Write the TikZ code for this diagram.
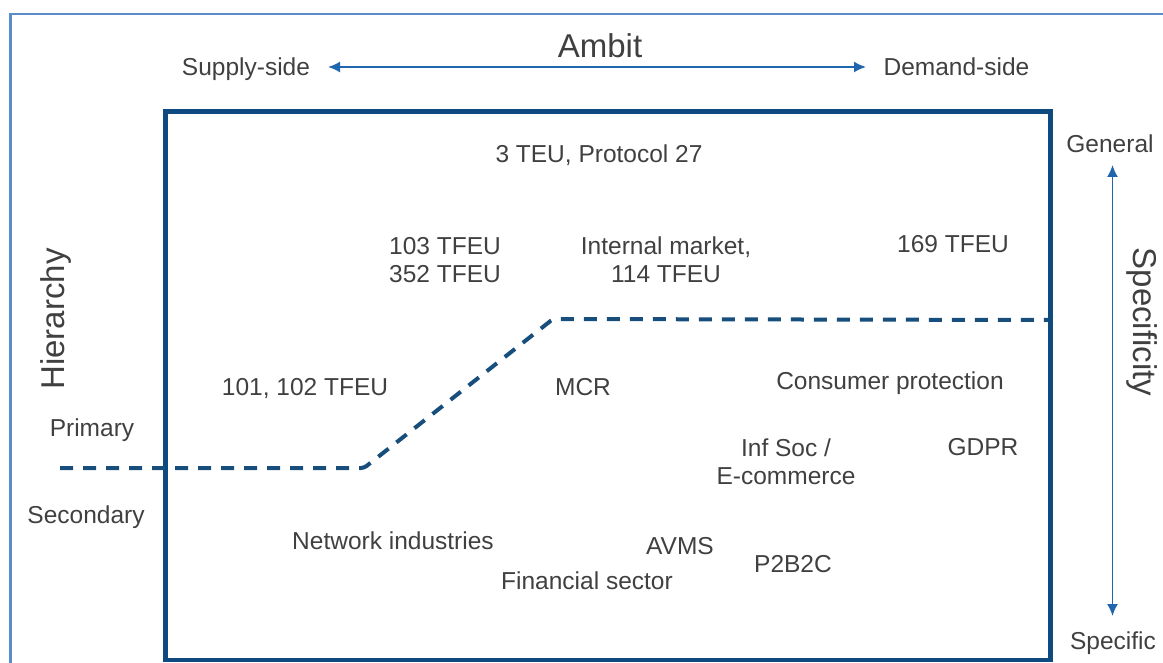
\documentclass[tikz,border=0pt]{standalone}
\usepackage{fontspec}
\setmainfont{Liberation Sans}
\usetikzlibrary{arrows.meta}
\definecolor{txtgray}{HTML}{404040}
\definecolor{outerblue}{HTML}{5B8BC9}
\definecolor{boxblue}{HTML}{0E4A80}
\definecolor{dashblue}{HTML}{174E7C}
\definecolor{arrblue}{HTML}{1F66AE}
\tikzset{
  lbl/.style={inner sep=0pt, anchor=base, text=txtgray, font=\fontsize{24.5}{28}\selectfont},
  lbl2/.style={inner sep=0pt, anchor=center, align=center, text=txtgray, font=\fontsize{24.5}{28}\selectfont},
  biglbl/.style={inner sep=0pt, anchor=base, text=txtgray, font=\fontsize{33}{38}\selectfont},
  axisarrow/.style={draw=arrblue, line width=1.7pt, {Latex[length=12pt,width=11pt]}-{Latex[length=12pt,width=11pt]}},
  divider/.style={draw=dashblue, line width=4pt, dash pattern=on 13pt off 10pt, rounded corners=3pt},
}
\begin{document}
\begin{tikzpicture}[x=1pt,y=-1pt]
\useasboundingbox (0,0) rectangle (1163,663);
% outer frame
\draw[outerblue, line width=2.6pt] (10.5,663) -- (10.5,14) -- (1163,14);
% inner box
\draw[boxblue, line width=4.5pt] (165.5,111.5) rectangle (1050.5,660);

% axis labels
\node[biglbl] (ambit) at (600,58) {Ambit};
\node[lbl] (supply) at (246,76) {Supply-side};
\node[lbl] (demand) at (956.5,76) {Demand-side};
\coordinate (ambL) at (328,67);
\coordinate (ambR) at (866,67);
\draw[axisarrow] (ambL) -- (ambR);

\node[lbl] (general) at (1110,153) {General};
\node[lbl] (specific) at (1113,649) {Specific};
\coordinate (specT) at (1112.5,165);
\coordinate (specB) at (1112.5,616);
\draw[axisarrow] (specT) -- (specB);
\node[biglbl, rotate=-90] (specificity) at (1133,322) {Specificity};

\node[biglbl, rotate=90] (hierarchy) at (64,319) {Hierarchy};
\node[lbl] (primary) at (92,436) {Primary};
\node[lbl] (secondary) at (86,523) {Secondary};

% dashed divider
\coordinate (d1) at (60,468);
\coordinate (d2) at (364,468);
\coordinate (d3) at (553,319);
\coordinate (d4) at (1049,320);
\draw[divider] (d1) -- (d2) -- (d3) -- (d4);

% contents
\node[lbl] (teu) at (599,163) {3 TEU, Protocol 27};
\node[lbl2] (tfeu103) at (445,260) {103 TFEU\\352 TFEU};
\node[lbl2] (internal) at (666,260) {Internal market,\\114 TFEU};
\node[lbl] (tfeu169) at (953,253) {169 TFEU};
\node[lbl] (tfeu101) at (305,395) {101, 102 TFEU};
\node[lbl] (mcr) at (583,395) {MCR};
\node[lbl] (consumer) at (890,389) {Consumer protection};
\node[lbl2] (infsoc) at (786,462) {Inf Soc /\\E-commerce};
\node[lbl] (gdpr) at (983,455) {GDPR};
\node[lbl] (network) at (393,549) {Network industries};
\node[lbl] (avms) at (680,554) {AVMS};
\node[lbl] (p2b2c) at (793,572) {P2B2C};
\node[lbl] (financial) at (587,589) {Financial sector};
\end{tikzpicture}
\end{document}
